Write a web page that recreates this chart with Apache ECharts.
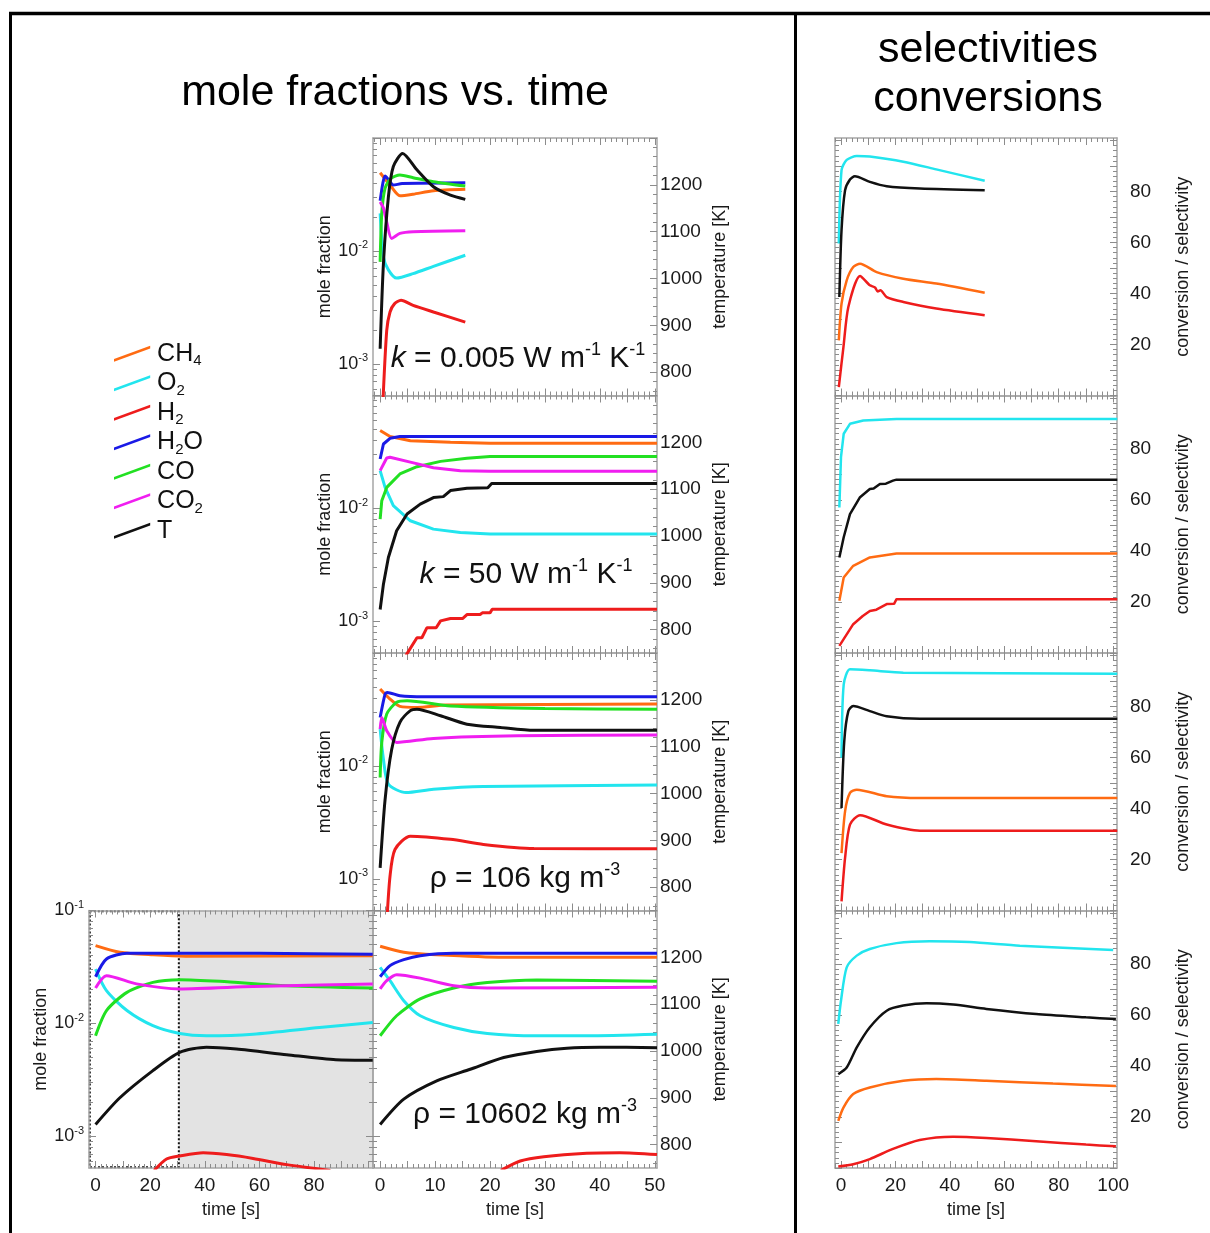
<!DOCTYPE html>
<html><head><meta charset="utf-8">
<script src="https://cdn.jsdelivr.net/npm/echarts@6/dist/echarts.min.js"></script>
<style>html,body{margin:0;padding:0;background:#fff}#c{width:1210px;height:1233px}</style>
</head><body><div id="c"></div>
<script>
// ================= DATA =================
const species = ['CH4','O2','H2','H2O','CO','CO2','T'];
const speciesLabels = {CH4:'CH{s|4}', O2:'O{s|2}', H2:'H{s|2}', H2O:'H{s|2}O', CO:'CO', CO2:'CO{s|2}', T:'T'};
const speciesColors = {CH4:'#ff6b12', O2:'#22e5ee', H2:'#ee1c1c', H2O:'#1a1ae6', CO:'#22e022', CO2:'#f01ef0', T:'#111111'};

// x tick labels (time [s])
const shortTimeLabels = [0,10,20,30,40,50];
const longTimeLabels = [0,20,40,60,80,100];
const longTimeLabelsLeft = [0,20,40,60,80];
// y tick labels
const tempLabels = [800,900,1000,1100,1200];
const convLabels = [20,40,60,80];
const logLabelsMid = [-3,-2];
const logLabelsLeft = [-3,-2,-1];

// --- k = 0.005 W m-1 K-1 : mole fractions [t s, x] and T [t s, K]
const k005_CH4 = [[0,0.0492],[1.8,0.0383],[3.6,0.0308],[6,0.0318],[9.7,0.0341],[15.5,0.0351]];
const k005_O2  = [[0,0.0215],[0.6,0.00885],[1.5,0.0068],[3.0,0.00575],[6,0.0063],[9.7,0.0073],[15.5,0.00916]];
const k005_H2  = [[0.5,0.00045],[1.2,0.00198],[1.8,0.00288],[2.6,0.0034],[3.8,0.00366],[6,0.0033],[9.7,0.00288],[15.5,0.00234]];
const k005_H2O = [[0,0.0278],[0.5,0.040],[0.9,0.046],[1.5,0.043],[2.4,0.0383],[4,0.0395],[15.5,0.0401]];
const k005_CO  = [[0,0.0080],[0.3,0.0216],[0.9,0.0360],[2,0.0440],[3.6,0.0470],[6,0.0445],[9.7,0.0410],[15.5,0.0375]];
const k005_CO2 = [[0,0.0272],[0.6,0.0240],[1.2,0.018],[2.1,0.0129],[3.6,0.0143],[6,0.0148],[15.5,0.0151]];
const k005_T   = [[0,850],[0.6,1032],[1.5,1174],[2.4,1239],[4.1,1267],[6.7,1232],[9.7,1196],[12.8,1178],[15.5,1169]];

// --- k = 50 W m-1 K-1
const k50_CH4 = [[0,0.0489],[1.8,0.0433],[5.5,0.0398],[12.8,0.0385],[20,0.0378],[50.4,0.0378]];
const k50_O2  = [[0,0.0216],[0.9,0.01535],[2.4,0.01057],[5.5,0.00778],[9.7,0.00656],[14.6,0.00612],[20,0.00593],[50.4,0.00593]];
const k50_H2  = [[4.7,0.0005],[6.7,0.000716],[7.6,0.000716],[8.5,0.000877],[10.2,0.000877],[11,0.00101],[12.8,0.00106],[15.0,0.00106],[15.8,0.00115],[18.2,0.00115],[18.6,0.00119],[20.0,0.00119],[20.4,0.00128],[50.4,0.00128]];
const k50_H2O = [[0,0.0274],[0.6,0.0372],[1.8,0.0418],[3.6,0.0433],[50.4,0.0433]];
const k50_CO  = [[0,0.00805],[0.3,0.0117],[1.2,0.01535],[3.6,0.0202],[6.7,0.0234],[11,0.0261],[15.8,0.0278],[20,0.0288],[50.4,0.0288]];
const k50_CO2 = [[0,0.0216],[1.2,0.028],[1.8,0.0284],[5.5,0.0257],[9.7,0.0229],[14.6,0.0216],[20,0.0213],[50.4,0.0213]];
const k50_T   = [[0,843],[0.6,897],[1.5,954],[3.0,1011],[4.9,1047],[7.3,1068],[9.7,1082],[11.5,1084],[12.8,1097],[15.8,1102],[19.6,1103],[20.3,1112],[50.4,1112]];

// --- rho = 106 kg m-3
const r106_CH4 = [[0,0.048],[1.8,0.0391],[3.6,0.0337],[6.7,0.033],[12,0.0346],[50.4,0.0353]];
const r106_O2  = [[0,0.0212],[0.6,0.01148],[1.5,0.00689],[4.7,0.00581],[9.7,0.00621],[18.8,0.00656],[50.4,0.00678]];
const r106_H2  = [[1.2,0.0004],[1.8,0.00106],[2.7,0.00182],[5.5,0.00239],[12.8,0.00224],[18.8,0.00202],[28,0.00186],[50.4,0.00185]];
const r106_H2O = [[0,0.0269],[0.9,0.0433],[1.3,0.0448],[3.6,0.0418],[8,0.0409],[50.4,0.0409]];
const r106_CO  = [[0,0.00789],[0.3,0.01614],[1.2,0.0288],[3.0,0.0366],[4.9,0.0378],[12.8,0.034],[30,0.0323],[50.4,0.0318]];
const r106_CO2 = [[0,0.0212],[0.3,0.0269],[1.2,0.0205],[3.0,0.01614],[9.7,0.01754],[25,0.0185],[50.4,0.01875]];
const r106_T   = [[0,841],[0.9,987],[2.1,1094],[3.6,1152],[5.5,1177],[6.7,1180],[11,1166],[15.8,1148],[21.9,1141],[28,1135],[50.4,1135]];

// --- rho = 10602 kg m-3
const r10602_CH4 = [[0,0.0482],[4.3,0.0427],[10.3,0.0405],[22.5,0.0385],[50.4,0.0385]];
const r10602_O2  = [[0,0.0314],[1.8,0.0239],[4.3,0.0159],[7.3,0.0117],[13.4,0.0092],[19.5,0.00815],[28.5,0.00778],[37.6,0.00778],[50.4,0.00803]];
const r10602_H2  = [[22.0,0.0005],[25.5,0.000605],[29.8,0.00066],[37.6,0.000708],[43.6,0.000716],[50.4,0.00069]];
const r10602_H2O = [[0,0.0259],[1.8,0.0325],[4.3,0.0367],[7.3,0.0398],[13.4,0.0418],[50.4,0.0418]];
const r10602_CO  = [[0,0.00778],[3.0,0.0117],[7.3,0.01648],[13.4,0.0206],[19.5,0.023],[28.5,0.0243],[50.4,0.0236]];
const r10602_CO2 = [[0,0.0202],[1.2,0.0239],[3.0,0.027],[7.3,0.0252],[13.4,0.0216],[19.5,0.0206],[50.4,0.0209]];
const r10602_T   = [[0,843],[4.3,897],[10.3,936],[16.4,961],[22.5,986],[28.5,999],[34,1006],[40,1008],[50.4,1007]];

// --- rho = 10602 kg m-3, long run (0-100 s)
const long_CH4 = [[0,0.0489],[8.9,0.0427],[21,0.0405],[33,0.0394],[101.5,0.0398]];
const long_O2  = [[0,0.0303],[4,0.0195],[11.5,0.013],[21,0.00955],[30.8,0.00815],[40.6,0.00778],[57.7,0.00803],[82,0.0092],[101.5,0.0102]];
const long_H2  = [[21.5,0.0005],[26,0.00063],[30.8,0.00067],[39.4,0.000716],[48,0.00069],[57.7,0.000638],[70,0.000562],[86,0.0005]];
const long_H2O = [[0,0.0259],[4,0.0372],[11.5,0.0418],[60,0.0418],[101.5,0.0409]];
const long_CO  = [[0,0.00778],[4,0.013],[11.5,0.01884],[21,0.0231],[30.8,0.0244],[45.5,0.0236],[70,0.0216],[101.5,0.0206]];
const long_CO2 = [[0,0.0206],[4,0.0265],[15,0.0224],[30.8,0.0202],[57.7,0.0212],[101.5,0.0224]];
const long_T   = [[0,843],[8.9,900],[21,958],[30.8,997],[40.6,1008],[51.6,1004],[70,992],[88,981],[101.5,980]];
const longShadeStart = 30.5;   // shaded region starts [s]

// --- conversions / selectivities [%] (cyan, black, orange, red)
const sel0_cyan   = [[-0.8,59.6],[0.2,88.4],[2.1,92.4],[5.8,93.9],[10.6,93.7],[22.9,91.7],[35,88.7],[52.8,84.2]];
const sel0_black  = [[-0.6,38.6],[0.2,64.8],[1.5,80.5],[3.3,84.7],[5.1,86],[10.6,83.8],[16.8,82.1],[29,81.2],[52.8,80.5]];
const sel0_orange = [[-0.8,21.6],[0.2,36],[2.1,45.2],[4.5,50.4],[7,51.7],[13.1,48.4],[22.9,45.8],[35,43.9],[52.8,40.3]];
const sel0_red    = [[-0.8,3.3],[0.9,19],[2.7,34.7],[7,46.9],[10.6,43.2],[12.5,42.4],[13.5,40.8],[14.5,41.3],[16.8,38.6],[22.9,36.7],[35,34.1],[52.8,31.5]];

const sel1_cyan   = [[-0.6,57.1],[0,76.8],[1,86],[3.3,89.9],[8.2,91.2],[20.4,91.8],[101.5,91.8]];
const sel1_black  = [[-0.6,37.5],[1,45.4],[3.3,54.5],[7,61.1],[10.6,64.3],[12,64.5],[14.3,66.3],[16.5,66.4],[19.1,67.6],[20.4,68],[101.5,68]];
const sel1_orange = [[-0.6,20.5],[1,29.6],[4.5,34.2],[10.6,37.5],[20.4,39],[101.5,39]];
const sel1_red    = [[-0.6,2.8],[4.5,11.3],[8,14.5],[10.6,16.5],[13,17],[16.8,19.2],[19.5,19.3],[20.4,21.1],[101.5,21.1]];

const sel2_cyan   = [[0.2,59.9],[1,88.7],[3.3,94.6],[10.6,94.2],[22.9,93.3],[101.5,92.9]];
const sel2_black  = [[0.2,40.2],[1.2,66.4],[2.7,78.2],[4.5,80.2],[10.6,78.2],[16.8,76.2],[29,75.2],[101.5,75.2]];
const sel2_orange = [[0.2,22.5],[1.5,38.9],[3.3,46.1],[5.8,47.4],[16.8,44.8],[29,44.1],[101.5,44.1]];
const sel2_red    = [[0.2,3.6],[1.5,20.6],[3.3,33.7],[7,37.4],[16.8,33.7],[29,31.3],[101.5,31.3]];

const sel3_cyan   = [[-1,56.5],[0,65.6],[2.1,78.7],[5.8,83.3],[10.6,85.9],[20.4,88.2],[32.6,88.9],[47.3,88.6],[65.7,87.2],[100,85.5]];
const sel3_black  = [[-1,36.8],[2.1,39.4],[5.8,47.3],[10.6,55.2],[16.8,61.7],[22.9,63.7],[31.4,64.6],[41.2,64.1],[53.4,62.4],[71.7,60.4],[90,59.1],[101,58.4]];
const sel3_orange = [[-1,18.5],[0.9,23.7],[4.5,29],[10.6,31.6],[22.9,34.2],[35,34.9],[53.4,34.2],[77.9,33.1],[101,32.2]];
const sel3_red    = [[-1,0.6],[4.5,1.5],[10.6,3.5],[19.1,7.5],[28.9,11],[41.2,12.3],[53.4,11.8],[71.7,10.5],[90,9.2],[101,8.5]];

// ================= BUILD =================
const FONT = '"Liberation Sans", Arial, Helvetica, sans-serif';
const AXIS_C = '#a6a6a6', TICK_C = '#8c8c8c', TXT = '#1a1a1a';
const LOG_MIN = -3.28, LOG_MAX = -1, T_MIN = 750, T_MAX = 1300, C_MIN = 0, C_MAX = 101;
const SX = [-1.3, 50.4], LX = [-2.4, 101.6];

function seq(a, b, s, skip) { const r = []; for (let v = a; v <= b + 1e-9; v += s) { const q = Math.round(v * 1000) / 1000; if (!skip || !skip(q)) r.push(q); } return r; }
const logMajor = [-3, -2, -1];
const logMinor = []; [-4, -3, -2].forEach(n => { for (let k = 2; k <= 9; k++) { const v = n + Math.log10(k); if (v > LOG_MIN && v < LOG_MAX) logMinor.push(v); } });
const tMajor = seq(800, 1300, 100), tMinor = seq(760, 1290, 20, v => v % 100 === 0);
const cMajor = seq(0, 100, 10), cMinor = seq(0, 100, 2, v => v % 10 === 0);
const lxMajor = seq(0, 100, 10), lxMinor = seq(-2, 100, 2, v => v % 10 === 0);
const sxMajor = seq(0, 50, 5), sxMinor = seq(-1, 50, 1, v => v % 5 === 0);

const grids = [], xAxis = [], yAxis = [], series = [];
const rowTop = r => 138 + 257.5 * r, RH = 257.5;
const plainFmt = v => String(Math.round(v));

function addAxis(list, o) {
  const idx = list.length;
  const main = {
    type: 'value', gridIndex: o.grid, position: o.pos, min: o.min, max: o.max, z: 2,
    axisLine: { show: true, onZero: false, lineStyle: { color: AXIS_C, width: 1.5 } },
    axisTick: { show: true, inside: true, length: 7, lineStyle: { color: TICK_C, width: 1 }, customValues: o.major },
    axisLabel: o.labels ? { show: true, customValues: o.labels, formatter: o.fmt || plainFmt, color: TXT, fontSize: 19, fontFamily: FONT, margin: o.margin, rich: o.rich } : { show: false },
    splitLine: { show: false }
  };
  if (o.name) {
    Object.assign(main, { name: o.name, nameLocation: 'middle', nameGap: o.nameGap, nameRotate: o.nameRotate,
      nameTextStyle: { fontSize: 18, color: TXT, fontFamily: FONT } });
  }
  list.push(main);
  list.push({
    type: 'value', gridIndex: o.grid, position: o.pos, min: o.min, max: o.max, z: 2,
    axisLine: { show: false, onZero: false },
    axisTick: { show: true, inside: true, length: 4, lineStyle: { color: TICK_C, width: 1 }, customValues: o.minor },
    axisLabel: { show: false }, splitLine: { show: false }
  });
  return idx;
}

const logFmt = v => '{b|10}{s|' + Math.round(v) + '}';
const logRich = { b: { fontSize: 18, lineHeight: 22, fontFamily: FONT, color: TXT }, s: { fontSize: 11, lineHeight: 11, verticalAlign: 'top', fontFamily: FONT, color: TXT } };

function lineSeries(name, color, data, xi, yi, width, smooth) {
  return { type: 'line', name, data, xAxisIndex: xi, yAxisIndex: yi, showSymbol: false, symbol: 'none',
    smooth, clip: true, z: 3, lineStyle: { color, width }, itemStyle: { color }, emphasis: { disabled: true } };
}
const toLog = arr => arr.map(p => [p[0], Math.log10(p[1])]);

// ---- middle column: mole fractions + temperature
const molePanels = [
  { CH4: k005_CH4, O2: k005_O2, H2: k005_H2, H2O: k005_H2O, CO: k005_CO, CO2: k005_CO2, T: k005_T, smooth: 0.25 },
  { CH4: k50_CH4, O2: k50_O2, H2: k50_H2, H2O: k50_H2O, CO: k50_CO, CO2: k50_CO2, T: k50_T, smooth: false },
  { CH4: r106_CH4, O2: r106_O2, H2: r106_H2, H2O: r106_H2O, CO: r106_CO, CO2: r106_CO2, T: r106_T, smooth: 0.25 },
  { CH4: r10602_CH4, O2: r10602_O2, H2: r10602_H2, H2O: r10602_H2O, CO: r10602_CO, CO2: r10602_CO2, T: r10602_T, smooth: 0.25 }
];
molePanels.forEach((p, r) => {
  const g = grids.length;
  grids.push({ left: 373, top: rowTop(r), width: 284, height: RH });
  const last = r === 3;
  const xb = addAxis(xAxis, { grid: g, pos: 'bottom', min: SX[0], max: SX[1], major: sxMajor, minor: sxMinor,
    labels: last ? shortTimeLabels : null, margin: 8, name: last ? 'time [s]' : null, nameGap: 33 });
  addAxis(xAxis, { grid: g, pos: 'top', min: SX[0], max: SX[1], major: sxMajor, minor: sxMinor });
  const yl = addAxis(yAxis, { grid: g, pos: 'left', min: LOG_MIN, max: LOG_MAX, major: logMajor, minor: logMinor,
    labels: last ? null : logLabelsMid, fmt: logFmt, rich: logRich, margin: 5,
    name: last ? null : 'mole fraction', nameGap: 37, nameRotate: 90 });
  const yr = addAxis(yAxis, { grid: g, pos: 'right', min: T_MIN, max: T_MAX, major: tMajor, minor: tMinor,
    labels: tempLabels, margin: 3, name: 'temperature [K]', nameGap: 54, nameRotate: 90 });
  species.forEach(s => {
    const isT = s === 'T';
    series.push(lineSeries(s, speciesColors[s], isT ? p[s] : toLog(p[s]), xb, isT ? yr : yl, 3, p.smooth));
  });
});

// ---- bottom-left: long run 0-100 s
{
  const g = grids.length;
  grids.push({ left: 89, top: rowTop(3), width: 284, height: RH });
  const xb = addAxis(xAxis, { grid: g, pos: 'bottom', min: LX[0], max: LX[1], major: lxMajor, minor: lxMinor,
    labels: longTimeLabelsLeft, margin: 8, name: 'time [s]', nameGap: 33 });
  addAxis(xAxis, { grid: g, pos: 'top', min: LX[0], max: LX[1], major: lxMajor, minor: lxMinor });
  const yl = addAxis(yAxis, { grid: g, pos: 'left', min: LOG_MIN, max: LOG_MAX, major: logMajor, minor: logMinor,
    labels: logLabelsLeft, fmt: logFmt, rich: logRich, margin: 5, name: 'mole fraction', nameGap: 37, nameRotate: 90 });
  addAxis(yAxis, { grid: g, pos: 'right', min: LOG_MIN, max: LOG_MAX, major: logMajor, minor: logMinor });
  const yT = yAxis.length;
  yAxis.push({ type: 'value', gridIndex: g, show: false, min: T_MIN, max: T_MAX, position: 'right' });
  // grey shading (below curves)
  series.push({ type: 'line', name: 'shade', data: [], xAxisIndex: xb, yAxisIndex: yl, z: 1, silent: true,
    markArea: { silent: true, label: { show: false },
      data: [[{ xAxis: longShadeStart, itemStyle: { color: '#e3e3e3' } }, { xAxis: LX[1] }]] } });
  // dotted box (above axis lines), spanning the first part of the run
  series.push({ type: 'line', name: 'box', data: [], xAxisIndex: xb, yAxisIndex: yl, z: 6, silent: true, clip: false,
    markArea: { silent: true, label: { show: false },
      data: [[{ xAxis: LX[0] + 0.3, yAxis: LOG_MAX - 0.006,
                itemStyle: { color: 'rgba(0,0,0,0)', borderColor: '#111', borderWidth: 2, borderType: [2, 2] } },
              { xAxis: longShadeStart, yAxis: LOG_MIN + 0.006 }]] } });
  const p = { CH4: long_CH4, O2: long_O2, H2: long_H2, H2O: long_H2O, CO: long_CO, CO2: long_CO2, T: long_T };
  species.forEach(s => {
    const isT = s === 'T';
    series.push(lineSeries(s, speciesColors[s], isT ? p[s] : toLog(p[s]), xb, isT ? yT : yl, 3, 0.25));
  });
}

// ---- right column: conversions / selectivities
const selPanels = [
  [sel0_cyan, sel0_black, sel0_orange, sel0_red],
  [sel1_cyan, sel1_black, sel1_orange, sel1_red],
  [sel2_cyan, sel2_black, sel2_orange, sel2_red],
  [sel3_cyan, sel3_black, sel3_orange, sel3_red]
];
const selColors = [speciesColors.O2, speciesColors.T, speciesColors.CH4, speciesColors.H2];
const selNames = ['conversion O2', 'selectivity (black)', 'conversion CH4', 'selectivity H2'];
selPanels.forEach((p, r) => {
  const g = grids.length;
  grids.push({ left: 835, top: rowTop(r), width: 282, height: RH });
  const last = r === 3;
  const xb = addAxis(xAxis, { grid: g, pos: 'bottom', min: LX[0] + 0.2, max: LX[1] - 0.2, major: lxMajor, minor: lxMinor,
    labels: last ? longTimeLabels : null, margin: 8, name: last ? 'time [s]' : null, nameGap: 33 });
  addAxis(xAxis, { grid: g, pos: 'top', min: LX[0] + 0.2, max: LX[1] - 0.2, major: lxMajor, minor: lxMinor });
  addAxis(yAxis, { grid: g, pos: 'left', min: C_MIN, max: C_MAX, major: cMajor, minor: cMinor });
  const yr = addAxis(yAxis, { grid: g, pos: 'right', min: C_MIN, max: C_MAX, major: cMajor, minor: cMinor,
    labels: convLabels, margin: 13, name: 'conversion / selectivity', nameGap: 57, nameRotate: 90 });
  p.forEach((d, i) => series.push(lineSeries(selNames[i], selColors[i], d, xb, yr, 2.5, r === 1 ? false : 0.25)));
});

// ---- decorations: frame, titles, panel annotations
const annRich = {
  i: { fontStyle: 'italic', fontSize: 30, lineHeight: 36, fontFamily: FONT, fill: '#111' },
  p: { fontSize: 18, lineHeight: 26, verticalAlign: 'top', fontFamily: FONT, fill: '#111' }
};
function ann(text, x, y) {
  return { type: 'text', x, y, z: 10, style: { text, fontSize: 30, lineHeight: 36, fontFamily: FONT, fill: '#111',
    align: 'center', verticalAlign: 'middle', rich: annRich } };
}
function ttl(text, x, y) {
  return { type: 'text', x, y, z: 10, style: { text, fontSize: 43, fontFamily: FONT, fill: '#000', align: 'center', verticalAlign: 'middle' } };
}
const graphics = [
  { type: 'line', shape: { x1: 9, y1: 13.5, x2: 1210, y2: 13.5 }, style: { stroke: '#000', lineWidth: 3.5 } },
  { type: 'line', shape: { x1: 10.5, y1: 12, x2: 10.5, y2: 1233 }, style: { stroke: '#000', lineWidth: 3 } },
  { type: 'line', shape: { x1: 795.5, y1: 12, x2: 795.5, y2: 1233 }, style: { stroke: '#000', lineWidth: 3 } },
  ttl('mole fractions vs. time', 395, 93),
  ttl('selectivities', 988, 50),
  ttl('conversions', 988, 99),
  ann('{i|k} = 0.005 W m{p|-1} K{p|-1}', 518, 359),
  ann('{i|k} = 50 W m{p|-1} K{p|-1}', 526, 575),
  ann('ρ = 106 kg m{p|-3}', 525, 879),
  ann('ρ = 10602 kg m{p|-3}', 525, 1115)
];

const chart = echarts.init(document.getElementById('c'), null, { renderer: 'canvas' });
chart.setOption({
  animation: false,
  backgroundColor: '#fff',
  textStyle: { fontFamily: FONT },
  grid: grids.map(g => Object.assign({ show: false, containLabel: false }, g)),
  xAxis, yAxis, series,
  legend: {
    orient: 'vertical', left: 109, top: 334, itemWidth: 40, itemHeight: 16, itemGap: 0,
    selectedMode: false, icon: 'path://M0,14 L38,0 L38,2.8 L0,16.8 Z',
    data: species, formatter: n => speciesLabels[n],
    textStyle: { fontSize: 25, lineHeight: 29.5, color: '#111', fontFamily: FONT,
      rich: { s: { fontSize: 15, lineHeight: 14, verticalAlign: 'bottom', fontFamily: FONT, color: '#111' } } }
  },
  graphic: graphics
});
</script></body></html>
